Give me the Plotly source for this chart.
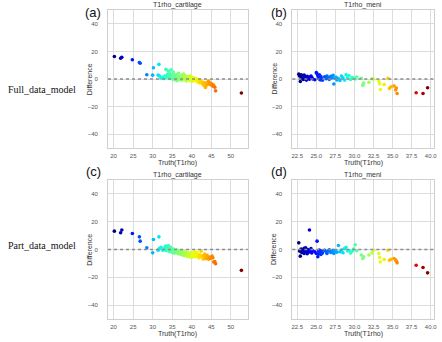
import numpy as np
import plotly.graph_objects as go

# ---------------- data ----------------
cart_x = [20.2, 21.8, 22.1, 24.8, 26.6, 26.8, 28.5, 30.0, 30.2, 31.4, 31.6, 31.7, 32.1, 32.6, 32.9,
          33.1, 33.3, 33.4, 33.7, 33.8, 34.0, 34.2, 34.2, 34.4, 34.6, 34.7, 34.9, 35.0, 35.1, 35.3,
          35.3, 35.5, 35.6, 35.8, 35.9, 36.1, 36.2, 36.3, 36.5, 36.6, 36.8, 36.9, 37.1, 37.2, 37.4,
          37.5, 37.7, 37.8, 37.9, 38.1, 38.2, 38.3, 38.5, 38.6, 38.6, 38.8, 38.9, 39.0, 39.1, 39.2,
          39.3, 39.4, 39.5, 39.6, 39.7, 39.8, 39.9, 40.0, 40.1, 40.2, 40.3, 40.4, 40.6, 40.7, 40.9,
          41.0, 41.1, 41.3, 41.5, 41.6, 41.8, 42.0, 42.2, 42.4, 42.7, 42.9, 43.1, 43.3, 43.5, 43.6,
          43.9, 44.1, 44.3, 44.6, 44.7, 44.9, 45.2, 45.4, 45.6, 45.9, 46.1, 52.7]

cart_diff_full = [16.3, 15.0, 15.8, 13.9, 12.0, 11.4, 3.1, 2.8, 8.2, 2.9, 10.6, 2.3, 0.8, 1.5, 0.3,
                  2.1, 0.9, 7.0, 1.6, 3.4, 5.8, 0.5, 2.6, 4.0, 1.2, 6.6, 0.2, 3.0, 1.7, 5.1,
                  0.6, 2.2, -0.5, 1.4, 3.3, 0.8, -1.2, 2.0, 0.1, 4.2, 1.0, -0.3, 1.9, 0.4, 2.6,
                  -0.8, 1.3, 0.5, 3.6, -0.2, 1.1, 2.4, 0.0, -1.5, 0.9, 1.7, -0.6, 0.3, 2.0, -0.1,
                  0.8, 1.5, -1.0, 0.2, 2.2, -0.4, 0.6, -1.8, 1.0, -0.7, 0.4, -1.2, 0.9, -0.5, -0.2,
                  -1.3, 0.3, -0.9, -2.1, -0.4, -1.6, -2.8, -0.8, -1.9, -3.5, -2.4, -4.6, -3.0, -6.2, -5.1,
                  -2.6, -4.0, -1.5, -3.2, -2.8, -4.4, -3.7, -5.3, -4.5, -6.0, -8.6, -10.1]

cart_diff_part = [13.2, 12.0, 14.0, 11.5, 9.1, 6.0, 1.2, -2.4, 7.2, -0.5, 9.1, 0.7, 1.5, -0.6, 1.0,
                  0.2, 2.4, -0.8, 1.1, 0.3, 2.9, -1.4, 0.6, -0.2, 1.5, -1.0, 0.1, -2.1, -0.5, -1.7,
                  0.4, -1.2, -2.6, -0.9, -1.8, -0.3, -2.2, -1.4, -3.0, -0.7, -2.5, -1.9, -3.4, -1.1, -2.8,
                  -3.6, -2.0, -4.1, -1.5, -3.2, -2.6, -4.5, -1.8, -3.9, -2.9, -3.3, -5.0, -2.4, -4.2, -3.6,
                  -2.7, -4.8, -3.1, -5.4, -2.2, -4.0, -3.5, -5.8, -3.0, -4.4, -2.5, -4.9, -3.8, -1.7, -5.2,
                  -3.4, -4.6, -2.0, -5.1, -4.0, -6.0, -3.7, -5.4, -1.2, -4.5, -6.8, -5.0, -3.3, -6.6, -5.6,
                  -4.2, -6.3, -7.0, -5.5, -6.1, -6.4, -4.8, -5.9, -9.0, -8.6, -10.2, -15.0]

meni_x = [22.7, 22.8, 22.9, 23.0, 23.0, 23.1, 23.2, 23.3, 23.4, 23.4, 23.5, 23.6, 23.7, 23.8, 23.9,
          24.0, 24.1, 24.2, 24.3, 24.4, 24.5, 24.8, 25.0, 25.1, 25.2, 25.3, 25.3, 25.4, 25.5, 25.6,
          25.7, 25.8, 26.1, 26.3, 26.4, 26.6, 26.7, 26.9, 27.0, 27.2, 27.3, 27.4, 27.6, 27.7, 27.9,
          28.1, 28.3, 28.5, 28.7, 28.9, 29.1, 29.3, 29.5, 29.7, 29.9, 30.1, 30.3, 30.9, 31.1, 31.2,
          31.9, 32.3, 32.5, 33.2, 33.3, 33.4, 33.9, 34.4, 34.6, 34.8, 35.2, 35.4, 35.5, 35.6, 38.1,
          39.0, 39.6]

meni_diff_full = [3.5, 2.2, -1.8, 3.0, 0.5, 1.5, 2.4, -0.3, 1.0, 2.8, 0.2, 1.7, -0.8, 2.0, 0.9,
                  1.4, -0.2, 0.7, 2.1, 1.3, 0.1, -0.5, 4.6, 3.8, 2.5, 1.2, 0.3, 3.0, -0.6, 1.8,
                  0.4, -0.9, 1.6, 0.2, 2.2, 1.0, -0.4, 1.9, 0.8, 2.7, -3.6, 0.5, 1.2, -0.7, 0.3,
                  -1.0, 2.2, 0.9, -0.8, 3.1, 1.5, 2.5, -0.4, 1.1, 0.6, 0.0, 1.4, 0.5, -4.6, -3.0,
                  -2.4, 0.2, 0.0, -1.6, -3.5, -7.6, -4.0, 0.5, -6.8, -5.6, -5.0, -8.0, -6.6, -10.5, -10.0,
                  -10.5, -6.3]

meni_diff_part = [4.8, -1.0, -4.8, -1.5, 0.4, -2.2, -0.6, -1.8, 0.8, -2.8, -0.2, 1.2, -1.4, -3.0, 0.0,
                  -2.0, 14.0, -1.2, 0.6, -2.5, -0.8, -1.6, -2.9, 6.0, -5.2, -1.0, -3.3, -0.4, -2.0, -3.6,
                  -1.2, -2.6, -0.5, -1.8, -2.9, -1.0, -0.2, -2.2, -1.4, -0.6, -2.8, -0.9, -1.5, -2.0, 2.9,
                  -1.6, -0.4, -2.3, 0.6, 1.5, -1.1, -0.8, -2.6, -1.3, 0.4, 3.4, -0.9, -4.0, -6.5, -5.2,
                  -4.0, -2.5, -0.5, -2.9, -5.8, -8.9, -7.2, -0.5, -7.7, -7.0, -6.5, -7.4, -8.4, -9.6, -11.3,
                  -13.0, -16.8]

panel_titles = ["T1rho_cartilage", "T1rho_meni", "T1rho_cartilage", "T1rho_meni"]
panel_letters = ["(a)", "(b)", "(c)", "(d)"]
row_labels = ["Full_data_model", "Part_data_model"]
cart_ticks = [20, 25, 30, 35, 40, 45, 50]
meni_ticks = [22.5, 25.0, 27.5, 30.0, 32.5, 35.0, 37.5, 40.0]
y_ticks = [-40, -20, 0, 20, 40]

# ---------------- jet colormap (matplotlib definition) ----------------
def jet_scale(n=41):
    t = np.linspace(0, 1, n)
    r = np.interp(t, [0, 0.35, 0.66, 0.89, 1], [0, 0, 1, 1, 0.5])
    g = np.interp(t, [0, 0.125, 0.375, 0.64, 0.91, 1], [0, 0, 1, 1, 0, 0])
    b = np.interp(t, [0, 0.11, 0.34, 0.65, 1], [0.5, 1, 1, 0, 0])
    return [[float(tt), f"rgb({int(rr*255)},{int(gg*255)},{int(bb*255)})"]
            for tt, rr, gg, bb in zip(t, r, g, b)]

JET = jet_scale()
W, H = 442, 342

def px(x):
    return x / W

def py(y):
    return 1 - y / H

# panel pixel boxes: (left, right, top, bottom)
boxes = [(108, 249, 10, 148), (294, 437, 10, 148),
         (108, 249, 180, 319), (294, 437, 180, 319)]
datasets = [(cart_x, cart_diff_full), (meni_x, meni_diff_full),
            (cart_x, cart_diff_part), (meni_x, meni_diff_part)]

fig = go.Figure()
FONT = "Liberation Sans, Arial, sans-serif"
layout = {}
annotations = []
shapes = []


def ann(text, x, y, size, color, angle=0, xanchor="center", family=FONT):
    return dict(text=text, x=px(x), y=py(y), xref="paper", yref="paper",
                xanchor=xanchor, yanchor="middle", textangle=angle, showarrow=False,
                font=dict(size=size, color=color, family=family))


for i, ((l, r, t, b), (xs, ys)) in enumerate(zip(boxes, datasets)):
    k = "" if i == 0 else str(i + 1)
    fig.add_trace(go.Scatter(
        x=xs, y=ys, mode="markers", xaxis="x" + k, yaxis="y" + k,
        marker=dict(size=3.6, color=xs, colorscale=JET, cmin=min(xs), cmax=max(xs),
                    line=dict(width=0)),
        showlegend=False, hoverinfo="x+y"))
    is_cart = (i % 2 == 0)
    span = max(xs) - min(xs)
    xr = [min(xs) - 0.05 * span, max(xs) + 0.05 * span]
    ticks = cart_ticks if is_cart else meni_ticks
    common = dict(showgrid=True, gridcolor="#dcdcdc", gridwidth=1, zeroline=False,
                  showline=True, linecolor="#cfcfcf", linewidth=1, mirror=True,
                  ticks="outside", tickcolor="rgba(0,0,0,0)",
                  tickfont=dict(size=6, color="#555555", family=FONT))
    layout["xaxis" + k] = dict(domain=[px(l), px(r)], anchor="y" + k, range=xr,
                               tickvals=ticks, ticklen=2,
                               ticktext=[str(v) if is_cart else f"{v:.1f}" for v in ticks],
                               **common)
    layout["yaxis" + k] = dict(domain=[py(b), py(t)], anchor="x" + k, range=[-50, 50],
                               tickvals=y_ticks, ticklen=8, **common)
    # dotted zero reference line
    shapes.append(dict(type="line", xref="x" + k + " domain", yref="y" + k,
                       x0=0, x1=1, y0=0, y1=0,
                       line=dict(color="#8c8c8c", width=1.3, dash="dot")))
    cx = (l + r) / 2
    annotations.append(ann(panel_titles[i], cx, t - 5, 7, "#333333"))
    annotations.append(ann("Truth(T1rho)", cx, b + 15, 7, "#333333"))
    annotations.append(ann("Difference", l - 19, (t + b) / 2, 7, "#333333", angle=-90))
    annotations.append(ann(panel_letters[i], l - 15 if is_cart else l - 13,
                           t + 3 if i < 2 else t - 9, 13, "#111111"))

for lab, yy in zip(row_labels, [90, 245]):
    annotations.append(ann(lab, 5, yy, 10, "#111111", xanchor="left",
                           family="Liberation Serif, Times New Roman, serif"))

fig.update_layout(width=W, height=H, margin=dict(l=0, r=0, t=0, b=0),
                  paper_bgcolor="white", plot_bgcolor="white",
                  annotations=annotations, shapes=shapes, **layout)
fig.write_html("out.html", config={"displayModeBar": False},
               post_script="document.body.style.margin='0px';document.body.style.padding='0px';"
                           "document.body.style.overflow='hidden';")
